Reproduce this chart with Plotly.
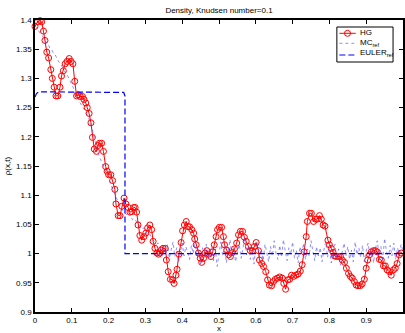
import plotly.graph_objects as go

# ---------------- data ----------------
hg_x = [0.000, 0.007, 0.014, 0.018, 0.023, 0.027, 0.032, 0.037, 0.043, 0.047,
        0.052, 0.057, 0.062, 0.068, 0.072, 0.077, 0.082, 0.087, 0.093, 0.098,
        0.103, 0.108, 0.113, 0.117, 0.123, 0.129, 0.133, 0.138, 0.142, 0.147,
        0.152, 0.156, 0.161, 0.167, 0.171, 0.175, 0.181, 0.186, 0.192, 0.196,
        0.200, 0.206, 0.211, 0.217, 0.220, 0.226, 0.231, 0.236, 0.242, 0.247,
        0.253, 0.258, 0.263, 0.268, 0.272, 0.276, 0.280, 0.285, 0.290, 0.296,
        0.301, 0.306, 0.312, 0.317, 0.321, 0.326, 0.331, 0.336, 0.340, 0.343,
        0.348, 0.354, 0.357, 0.362, 0.368, 0.374, 0.378, 0.383, 0.386, 0.391,
        0.397, 0.401, 0.406, 0.411, 0.416, 0.420, 0.426, 0.431, 0.434, 0.438,
        0.444, 0.449, 0.453, 0.458, 0.462, 0.467, 0.472, 0.478, 0.483, 0.487,
        0.492, 0.496, 0.501, 0.507, 0.512, 0.515, 0.521, 0.526, 0.531, 0.537,
        0.542, 0.548, 0.553, 0.558, 0.564, 0.569, 0.574, 0.580, 0.585, 0.591,
        0.596, 0.601, 0.607, 0.610, 0.616, 0.621, 0.627, 0.632, 0.637, 0.643,
        0.648, 0.653, 0.659, 0.665, 0.672, 0.676, 0.681, 0.687, 0.692, 0.697,
        0.703, 0.709, 0.715, 0.721, 0.726, 0.731, 0.737, 0.740, 0.746, 0.751,
        0.757, 0.762, 0.767, 0.773, 0.778, 0.783, 0.788, 0.796, 0.800, 0.805,
        0.810, 0.814, 0.819, 0.825, 0.830, 0.835, 0.841, 0.846, 0.852, 0.857,
        0.862, 0.868, 0.873, 0.878, 0.884, 0.889, 0.895, 0.900, 0.904, 0.909,
        0.914, 0.920, 0.925, 0.930, 0.936, 0.941, 0.947, 0.952, 0.957, 0.963,
        0.968, 0.974, 0.979, 0.984, 0.990, 0.995]
hg_y = [1.389, 1.397, 1.399, 1.397, 1.381, 1.365, 1.345, 1.335, 1.315, 1.300,
        1.285, 1.270, 1.270, 1.285, 1.304, 1.313, 1.325, 1.329, 1.334, 1.329,
        1.325, 1.295, 1.270, 1.272, 1.269, 1.269, 1.264, 1.258, 1.250, 1.240,
        1.224, 1.199, 1.179, 1.175, 1.185, 1.189, 1.189, 1.175, 1.149, 1.141,
        1.135, 1.135, 1.125, 1.110, 1.085, 1.065, 1.065, 1.081, 1.095, 1.085,
        1.079, 1.071, 1.072, 1.079, 1.079, 1.071, 1.049, 1.031, 1.023, 1.029,
        1.035, 1.044, 1.049, 1.041, 1.021, 1.009, 1.001, 0.999, 1.001, 1.006,
        1.009, 1.009, 0.989, 0.969, 0.956, 0.955, 0.949, 0.963, 0.973, 0.999,
        1.019, 1.039, 1.049, 1.055, 1.046, 1.046, 1.041, 1.035, 1.025, 1.015,
        1.001, 0.992, 0.985, 0.992, 1.001, 1.005, 0.999, 0.995, 1.003, 1.015,
        1.029, 1.041, 1.045, 1.045, 1.029, 1.015, 1.006, 0.998, 0.995, 1.002,
        1.008, 1.018, 1.032, 1.038, 1.038, 1.028, 1.021, 1.012, 1.005, 1.005,
        1.012, 1.019, 1.005, 0.989, 0.983, 0.978, 0.969, 0.955, 0.946, 0.945,
        0.952, 0.956, 0.958, 0.960, 0.958, 0.949, 0.939, 0.955, 0.956, 0.963,
        0.961, 0.963, 0.965, 0.970, 0.981, 1.003, 1.029, 1.055, 1.069, 1.069,
        1.055, 1.059, 1.059, 1.065, 1.059, 1.049, 1.047, 1.023, 1.015, 1.009,
        1.002, 0.996, 0.995, 0.995, 0.995, 0.989, 0.985, 0.975, 0.966, 0.961,
        0.958, 0.952, 0.946, 0.945, 0.945, 0.948, 0.956, 0.975, 0.989, 0.998,
        1.003, 1.005, 1.005, 1.003, 0.990, 0.989, 0.979, 0.979, 0.972, 0.969,
        0.963, 0.972, 0.975, 0.983, 0.998, 1.001]

mc_x = [0.000, 0.005, 0.010, 0.015, 0.020, 0.025, 0.030, 0.035, 0.040, 0.045,
        0.050, 0.055, 0.060, 0.065, 0.070, 0.075, 0.080, 0.085, 0.090, 0.095,
        0.100, 0.105, 0.110, 0.115, 0.120, 0.125, 0.130, 0.135, 0.140, 0.145,
        0.150, 0.155, 0.160, 0.165, 0.170, 0.175, 0.180, 0.185, 0.190, 0.195,
        0.200, 0.205, 0.210, 0.215, 0.220, 0.225, 0.230, 0.235, 0.240, 0.245,
        0.250, 0.255, 0.260, 0.265, 0.270, 0.275, 0.280, 0.285, 0.290, 0.295,
        0.300, 0.305, 0.310, 0.315, 0.320, 0.325, 0.330, 0.335, 0.340, 0.345,
        0.350, 0.355, 0.360, 0.365, 0.370, 0.375, 0.380, 0.385, 0.390, 0.395,
        0.400, 0.405, 0.410, 0.415, 0.420, 0.425, 0.430, 0.435, 0.440, 0.445,
        0.450, 0.455, 0.460, 0.465, 0.470, 0.475, 0.480, 0.485, 0.490, 0.495,
        0.500, 0.505, 0.510, 0.515, 0.520, 0.525, 0.530, 0.535, 0.540, 0.545,
        0.550, 0.555, 0.560, 0.565, 0.570, 0.575, 0.580, 0.585, 0.590, 0.595,
        0.600, 0.605, 0.610, 0.615, 0.620, 0.625, 0.630, 0.635, 0.640, 0.645,
        0.650, 0.655, 0.660, 0.665, 0.670, 0.675, 0.680, 0.685, 0.690, 0.695,
        0.700, 0.705, 0.710, 0.715, 0.720, 0.725, 0.730, 0.735, 0.740, 0.745,
        0.750, 0.755, 0.760, 0.765, 0.770, 0.775, 0.780, 0.785, 0.790, 0.795,
        0.800, 0.805, 0.810, 0.815, 0.820, 0.825, 0.830, 0.835, 0.840, 0.845,
        0.850, 0.855, 0.860, 0.865, 0.870, 0.875, 0.880, 0.885, 0.890, 0.895,
        0.900, 0.905, 0.910, 0.915, 0.920, 0.925, 0.930, 0.935, 0.940, 0.945,
        0.950, 0.955, 0.960, 0.965, 0.970, 0.975, 0.980, 0.985, 0.990, 0.995,
        1.000]
mc_y = [1.390, 1.386, 1.380, 1.376, 1.372, 1.368, 1.362, 1.360, 1.352, 1.350,
        1.343, 1.340, 1.334, 1.328, 1.325, 1.318, 1.312, 1.309, 1.302, 1.296,
        1.290, 1.283, 1.272, 1.266, 1.262, 1.255, 1.250, 1.246, 1.240, 1.234,
        1.226, 1.214, 1.200, 1.188, 1.176, 1.166, 1.158, 1.150, 1.143, 1.136,
        1.128, 1.120, 1.112, 1.104, 1.097, 1.090, 1.083, 1.078, 1.072, 1.069,
        1.066, 1.070, 1.064, 1.058, 1.060, 1.055, 1.050, 1.046, 1.042, 1.044,
        1.038, 1.033, 1.035, 1.028, 1.024, 1.020, 1.016, 1.018, 1.010, 1.006,
        1.012, 0.998, 1.015, 0.992, 1.008, 1.020, 0.995, 1.010, 0.985, 1.004,
        1.018, 0.996, 1.012, 1.002, 0.990, 1.014, 1.000, 1.022, 0.994, 1.006,
        0.982, 1.010, 0.998, 1.016, 0.990, 1.004, 1.012, 0.988, 1.008, 0.978,
        1.002, 1.020, 0.996, 1.012, 0.984, 1.006, 1.024, 0.994, 1.010, 0.986,
        1.004, 1.016, 0.992, 1.008, 1.026, 0.998, 1.014, 0.990, 1.006, 0.982,
        1.012, 1.020, 0.994, 1.008, 0.988, 1.016, 1.002, 0.986, 1.012, 0.996,
        1.022, 1.000, 0.990, 1.014, 0.994, 1.024, 1.004, 0.988, 1.010, 0.998,
        1.020, 0.992, 1.006, 0.984, 1.012, 1.000, 1.018, 0.990, 1.008, 0.996,
        1.022, 1.004, 0.988, 1.012, 0.996, 1.010, 0.986, 1.006, 1.020, 0.994,
        1.010, 0.984, 1.002, 1.016, 0.992, 1.008, 0.980, 1.004, 1.018, 0.996,
        1.012, 0.990, 1.006, 0.986, 1.020, 0.998, 1.010, 0.994, 1.014, 0.986,
        1.004, 1.018, 0.996, 1.010, 0.984, 1.008, 1.022, 0.998, 1.012, 0.990,
        1.026, 1.004, 0.992, 1.014, 0.996, 1.018, 0.990, 1.010, 1.000, 1.016,
        1.004]

euler_x = [0.000, 0.004, 0.010, 0.236, 0.241, 0.2445, 0.2445, 0.250, 1.000]
euler_y = [1.268, 1.274, 1.277, 1.277, 1.276, 1.270, 1.000, 1.000, 1.000]

series_names = ["HG", "MC<sub>ref</sub>", "EULER<sub>ref</sub>"]
x_ticks = [0, 0.1, 0.2, 0.3, 0.4, 0.5, 0.6, 0.7, 0.8, 0.9, 1]
y_ticks = [0.9, 0.95, 1, 1.05, 1.1, 1.15, 1.2, 1.25, 1.3, 1.35, 1.4]

FONT = "Liberation Sans, Arial, Helvetica, sans-serif"
RED = "#ff0000"
MC_COL = "rgba(70,70,255,0.6)"
BLUE = "#0000ff"
EULER_DASH = "6px,3px"

# plot area in pixels (for placing the legend box)
W, H = 405, 333
ML, MR, MT, MB = 35, 0, 20, 21
PW, PH = W - ML - MR, H - MT - MB


def px(xp):
    return (xp - ML) / PW


def py(yp):
    return (H - MB - yp) / PH


fig = go.Figure()
fig.add_trace(go.Scatter(
    x=hg_x, y=hg_y, name=series_names[0], mode="lines+markers",
    line=dict(color=RED, width=1),
    marker=dict(symbol="circle-open", size=6, color=RED, line=dict(width=1)),
    cliponaxis=False, showlegend=False,
))
fig.add_trace(go.Scatter(
    x=mc_x, y=mc_y, name=series_names[1], mode="lines",
    line=dict(color=MC_COL, width=1, dash="dot"), showlegend=False,
))
fig.add_trace(go.Scatter(
    x=euler_x, y=euler_y, name=series_names[2], mode="lines",
    line=dict(color=BLUE, width=1.2, dash=EULER_DASH), showlegend=False,
))

axis_common = dict(
    showgrid=False, zeroline=False, showline=True, linecolor="black",
    linewidth=1.5, mirror="ticks", ticks="inside", ticklen=4,
    tickcolor="black", tickwidth=1,
    tickfont=dict(family=FONT, size=8, color="black"),
)

# ---- legend (drawn as a boxed key in paper coordinates) ----
shapes = [
    dict(type="rect", xref="paper", yref="paper",
         x0=px(338.5), x1=px(395), y0=py(62), y1=py(27),
         fillcolor="white", line=dict(color="black", width=1), layer="above"),
]
key_rows = [
    (33.3, dict(color=RED, width=1), 32.8),
    (43.3, dict(color=MC_COL, width=1, dash="dot"), 42.5),
    (55.0, dict(color=BLUE, width=1.2, dash=EULER_DASH), 53.5),
]
annotations = []
for name, (yl, ln, yt) in zip(series_names, key_rows):
    shapes.append(dict(type="line", xref="paper", yref="paper",
                       x0=px(341), x1=px(357.5), y0=py(yl), y1=py(yl),
                       line=ln, layer="above"))
    annotations.append(dict(text=name, xref="paper", yref="paper",
                            x=px(360), y=py(yt), xanchor="left",
                            yanchor="middle", showarrow=False,
                            font=dict(family=FONT, size=8, color="black")))
shapes.append(dict(type="circle", xref="paper", yref="paper",
                   xsizemode="pixel", ysizemode="pixel",
                   xanchor=px(349.2), yanchor=py(33.3),
                   x0=-3, x1=3, y0=-3, y1=3,
                   line=dict(color=RED, width=1), layer="above"))

fig.update_layout(
    width=W, height=H,
    margin=dict(l=ML, r=MR, t=MT, b=MB),
    paper_bgcolor="white", plot_bgcolor="white",
    font=dict(family=FONT, size=8, color="black"),
    title=dict(text="Density, Knudsen number=0.1", x=0.5, xref="paper",
               y=1 - 10 / H, yref="container", yanchor="middle",
               font=dict(family=FONT, size=8, color="black")),
    xaxis=dict(range=[0, 1], tickvals=x_ticks,
               title=dict(text="x", standoff=2, font=dict(size=8)),
               **axis_common),
    yaxis=dict(range=[0.9, 1.4], tickvals=y_ticks,
               title=dict(text="ρ(x,t)", standoff=4, font=dict(size=8)),
               **axis_common),
    shapes=shapes,
    annotations=annotations,
    showlegend=False,
)

fig.write_html("out.html")
